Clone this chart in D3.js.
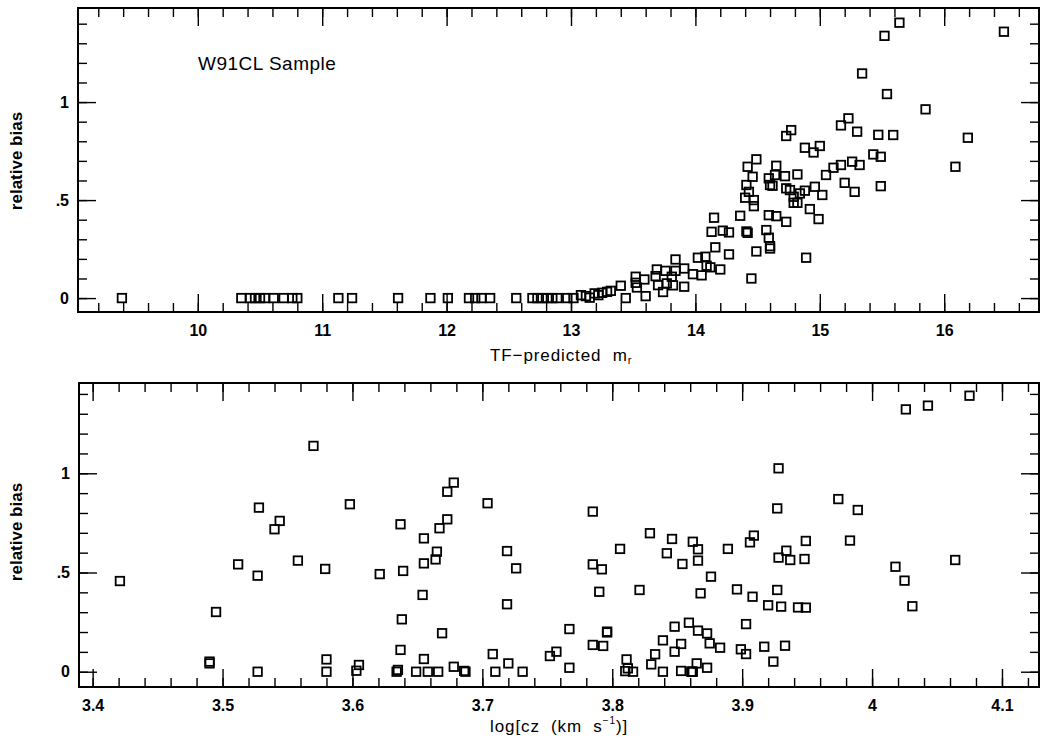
<!DOCTYPE html>
<html>
<head>
<meta charset="utf-8">
<script src="https://cdn.jsdelivr.net/npm/d3@7"></script>
<style>
  body { margin: 0; background: #fff; }
  text { font-family: "Liberation Sans", Arial, Helvetica, sans-serif; fill: #000; }
</style>
</head>
<body>
<div id="chart"></div>
<script>
// top panel: TF-predicted magnitude vs relative bias
const magTF = [
  9.39, 10.35, 10.42, 10.46, 10.50, 10.54, 10.61, 10.69, 10.76, 10.80,
  11.13, 11.24, 11.61, 11.87, 12.01, 12.18, 12.23, 12.28, 12.35, 12.56,
  12.69, 12.73, 12.77, 12.81, 12.85, 12.89, 12.97, 13.02,
  13.08, 13.12, 13.15, 13.19, 13.22, 13.25, 13.29, 13.32,
  13.40, 13.44, 13.52, 13.52, 13.53, 13.59, 13.60, 13.68, 13.69, 13.70,
  13.74, 13.76, 13.77, 13.81, 13.82, 13.84, 13.84, 13.91, 13.91, 13.98,
  14.02, 14.05, 14.08, 14.09, 14.12, 14.16, 14.20, 14.27, 14.15, 14.13,
  14.22, 14.27, 14.36, 14.41, 14.42, 14.45, 14.49, 14.42, 14.49, 14.46,
  14.41, 14.43, 14.40, 14.47, 14.47, 14.59, 14.60, 14.65, 14.64, 14.62,
  14.72, 14.82, 14.73, 14.76, 14.79, 14.79, 14.82, 14.84, 14.88, 14.96,
  15.02, 14.59, 14.65, 14.73, 14.57, 14.59, 14.60, 14.60, 14.92, 14.99,
  14.89, 14.73, 14.77, 14.88, 14.95, 15.00, 15.05, 15.11, 15.17, 15.20,
  15.28, 15.26, 15.32, 15.17, 15.23, 15.30, 15.43, 15.49, 15.49, 15.47,
  15.59, 15.34, 15.54, 15.52, 15.64, 15.85, 16.09, 16.19, 16.48
];
const biasTop = [
  0, 0, 0, 0, 0, 0, 0, 0, 0, 0,
  0, 0, 0, 0, 0, 0, 0, 0, 0, 0,
  0, 0, 0, 0, 0, 0, 0, 0,
  0.015, 0.010, 0.002, 0.024, 0.015, 0.027, 0.032, 0.037,
  0.063, 0.0, 0.109, 0.078, 0.054, 0.095, 0.010, 0.112, 0.146, 0.066,
  0.031, 0.139, 0.075, 0.109, 0.065, 0.197, 0.139, 0.151, 0.058, 0.122,
  0.206, 0.116, 0.211, 0.165, 0.157, 0.259, 0.146, 0.223, 0.410, 0.338,
  0.344, 0.335, 0.420, 0.340, 0.333, 0.100, 0.238, 0.670, 0.708, 0.619,
  0.577, 0.542, 0.512, 0.500, 0.469, 0.611, 0.577, 0.675, 0.628, 0.573,
  0.622, 0.631, 0.560, 0.551, 0.517, 0.486, 0.486, 0.534, 0.548, 0.568,
  0.526, 0.423, 0.418, 0.389, 0.347, 0.308, 0.265, 0.253, 0.454, 0.403,
  0.206, 0.827, 0.857, 0.767, 0.743, 0.776, 0.628, 0.665, 0.679, 0.588,
  0.542, 0.696, 0.679, 0.881, 0.917, 0.849, 0.733, 0.721, 0.571, 0.833,
  0.832, 1.146, 1.041, 1.338, 1.405, 0.963, 0.670, 0.818, 1.359
];

// bottom panel: log cz vs relative bias
const logCz = [
  3.421, 3.490, 3.490, 3.495, 3.512, 3.527, 3.528, 3.527, 3.540, 3.544,
  3.558, 3.570, 3.579, 3.580, 3.580, 3.598, 3.603, 3.605, 3.621, 3.634,
  3.635, 3.637, 3.638, 3.637, 3.639, 3.649, 3.655, 3.655, 3.654, 3.655,
  3.658, 3.664, 3.665, 3.666, 3.667, 3.669, 3.673, 3.673, 3.678, 3.678,
  3.686, 3.687, 3.704, 3.708, 3.710, 3.719, 3.719, 3.720, 3.726, 3.731,
  3.752, 3.757, 3.767, 3.767, 3.785, 3.785, 3.792, 3.790, 3.785, 3.793,
  3.796, 3.796, 3.806, 3.811, 3.810, 3.812, 3.816, 3.821, 3.829, 3.830,
  3.833, 3.839, 3.839, 3.842, 3.846, 3.848, 3.848, 3.853, 3.854, 3.853,
  3.859, 3.862, 3.866, 3.866, 3.866, 3.861, 3.862, 3.861, 3.865, 3.868,
  3.873, 3.875, 3.873, 3.876, 3.883, 3.889, 3.896, 3.899, 3.903, 3.903,
  3.906, 3.909, 3.908, 3.917, 3.920, 3.924, 3.927, 3.928, 3.928, 3.927,
  3.930, 3.933, 3.934, 3.937, 3.943, 3.948, 3.949, 3.949, 3.974, 3.983,
  3.989, 4.018, 4.025, 4.026, 4.031, 4.043, 4.064, 4.075
];
const biasBottom = [
  0.457, 0.051, 0.042, 0.301, 0.541, 0.484, 0.827, 0.0, 0.718, 0.760,
  0.560, 1.138, 0.518, 0.062, 0.0, 0.844, 0.005, 0.034, 0.492, 0.0,
  0.009, 0.110, 0.264, 0.743, 0.508, 0.0, 0.672, 0.546, 0.387, 0.064,
  0.0, 0.566, 0.605, 0.0, 0.723, 0.194, 0.907, 0.768, 0.953, 0.025,
  0.004, 0.0, 0.849, 0.089, 0.0, 0.608, 0.340, 0.042, 0.521, 0.0,
  0.079, 0.101, 0.215, 0.020, 0.807, 0.541, 0.516, 0.403, 0.135, 0.130,
  0.198, 0.202, 0.619, 0.062, 0.003, 0.017, 0.0, 0.412, 0.698, 0.037,
  0.088, 0.158, 0.0, 0.597, 0.669, 0.227, 0.101, 0.140, 0.543, 0.004,
  0.247, 0.655, 0.617, 0.560, 0.207, 0.0, 0.0, 0.0, 0.042, 0.395,
  0.193, 0.143, 0.020, 0.479, 0.121, 0.619, 0.415, 0.113, 0.089, 0.240,
  0.652, 0.686, 0.378, 0.126, 0.335, 0.051, 0.823, 1.025, 0.575, 0.412,
  0.328, 0.131, 0.610, 0.563, 0.324, 0.568, 0.659, 0.323, 0.870, 0.661,
  0.815, 0.529, 0.459, 1.322, 0.330, 1.341, 0.563, 1.391
];

// ticks
const biasMajor = [0, 0.5, 1];
const biasMinor = d3.range(0, 15).map(i => i / 10);
const magMajor = [10, 11, 12, 13, 14, 15, 16];
const magMinor = d3.range(46, 84).map(i => i / 5);
const czMajor = [3.4, 3.5, 3.6, 3.7, 3.8, 3.9, 4.0, 4.1];
const czMinor = d3.range(170, 207).map(i => i / 50);

const W = 1042, H = 747;
const svg = d3.select("#chart").append("svg")
  .attr("width", W).attr("height", H)
  .attr("viewBox", [0, 0, W, H]);

const biasFmt = d => d === 0 ? "0" : d === 1 ? "1" : ".5";

function panel(opts) {
  const { xs, ys, xDomain, yDomain, left, right, top, bottom,
          xMajor, xMinor, xFmt } = opts;
  const x = d3.scaleLinear().domain(xDomain).range([left, right]);
  const y = d3.scaleLinear().domain(yDomain).range([bottom, top]);
  const g = svg.append("g");

  const strip = sel => { sel.select(".domain").remove(); sel.selectAll("line").attr("stroke", "#000").attr("stroke-width", 1.4); };
  const labelStyle = sel => sel.selectAll("text")
    .attr("font-size", 16).attr("font-weight", "bold")
    .attr("font-family", "Liberation Sans, Arial, sans-serif");

  // bottom ticks + labels
  g.append("g").attr("transform", `translate(0,${bottom})`)
    .call(d3.axisBottom(x).tickValues(xMinor).tickSize(-9).tickFormat(""))
    .call(strip);
  g.append("g").attr("transform", `translate(0,${bottom})`)
    .call(d3.axisBottom(x).tickValues(xMajor).tickSize(-18).tickPadding(13).tickFormat(xFmt))
    .call(strip).call(labelStyle);
  // top ticks
  g.append("g").attr("transform", `translate(0,${top})`)
    .call(d3.axisTop(x).tickValues(xMinor).tickSize(-9).tickFormat(""))
    .call(strip);
  g.append("g").attr("transform", `translate(0,${top})`)
    .call(d3.axisTop(x).tickValues(xMajor).tickSize(-18).tickFormat(""))
    .call(strip);
  // left ticks + labels
  g.append("g").attr("transform", `translate(${left},0)`)
    .call(d3.axisLeft(y).tickValues(biasMinor).tickSize(-9).tickFormat(""))
    .call(strip);
  g.append("g").attr("transform", `translate(${left},0)`)
    .call(d3.axisLeft(y).tickValues(biasMajor).tickSize(-18).tickPadding(9).tickFormat(biasFmt))
    .call(strip).call(labelStyle);
  // right ticks
  g.append("g").attr("transform", `translate(${right},0)`)
    .call(d3.axisRight(y).tickValues(biasMinor).tickSize(-9).tickFormat(""))
    .call(strip);
  g.append("g").attr("transform", `translate(${right},0)`)
    .call(d3.axisRight(y).tickValues(biasMajor).tickSize(-18).tickFormat(""))
    .call(strip);

  // frame
  g.append("rect")
    .attr("x", left).attr("y", top)
    .attr("width", right - left).attr("height", bottom - top)
    .attr("fill", "none").attr("stroke", "#000").attr("stroke-width", 2);

  // square markers
  const s = 8.5;
  g.append("g").selectAll("rect")
    .data(d3.range(xs.length))
    .join("rect")
    .attr("x", i => x(xs[i]) - s / 2)
    .attr("y", i => y(ys[i]) - s / 2)
    .attr("width", s).attr("height", s)
    .attr("fill", "none").attr("stroke", "#000").attr("stroke-width", 1.8);

  return { x, y, g };
}

panel({
  xs: magTF, ys: biasTop,
  xDomain: [9.037, 16.762], yDomain: [-0.071, 1.48],
  left: 78, right: 1039, top: 8, bottom: 312,
  xMajor: magMajor, xMinor: magMinor, xFmt: d3.format("d")
});

panel({
  xs: logCz, ys: biasBottom,
  xDomain: [3.3895, 4.1285], yDomain: [-0.077, 1.455],
  left: 79, right: 1039, top: 383, bottom: 687,
  xMajor: czMajor, xMinor: czMinor, xFmt: d => d === 4 ? "4" : d3.format(".1f")(d)
});

// axis titles
[161, 532].forEach(cy => {
  svg.append("text")
    .attr("transform", `translate(22,${cy}) rotate(-90)`)
    .attr("text-anchor", "middle").attr("font-size", 17).attr("font-weight", "bold")
    .text("relative bias");
});

const t1 = svg.append("text")
  .attr("x", 490).attr("y", 361)
  .attr("font-size", 17).attr("letter-spacing", 0.9)
  .attr("xml:space", "preserve")
  .text("TF\u2212predicted  m");
t1.append("tspan").attr("font-size", 11).attr("dy", 3).text("r");

const t2 = svg.append("text")
  .attr("x", 490).attr("y", 732)
  .attr("font-size", 17).attr("letter-spacing", 0.9)
  .attr("xml:space", "preserve")
  .text("log[cz  (km  s");
t2.append("tspan").attr("font-size", 10).attr("dy", -8).text("\u22121");
t2.append("tspan").attr("dy", 8).text(")]");

svg.append("text")
  .attr("x", 198).attr("y", 70)
  .attr("font-size", 19).attr("letter-spacing", 0.5)
  .text("W91CL Sample");
</script>
</body>
</html>
